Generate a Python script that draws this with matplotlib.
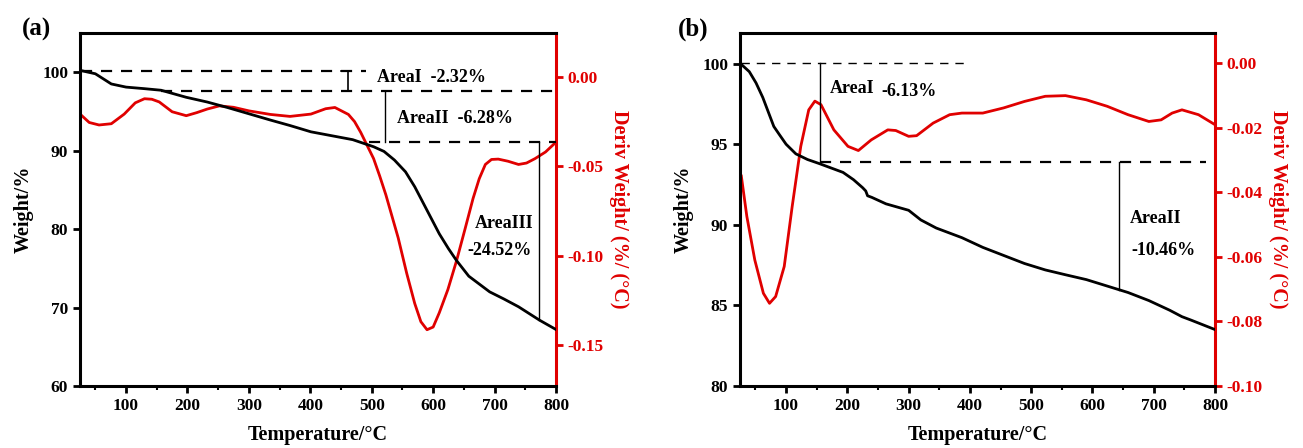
import matplotlib.pyplot as plt
from matplotlib.ticker import MultipleLocator, FuncFormatter

plt.rcParams['font.family'] = ['Liberation Serif', 'DejaVu Serif']
plt.rcParams['font.weight'] = 'bold'
plt.rcParams['axes.unicode_minus'] = False

# panel (a) data
temp_a_w = [27, 50, 76, 100, 130, 157, 198, 232, 265, 300, 335, 367, 401, 435, 469, 503,
            520, 537, 555, 570, 590, 610, 625, 638, 658, 675, 692, 715, 739, 773, 800]
weight_a = [100.2, 99.8, 98.5, 98.1, 97.9, 97.7, 96.8, 96.2, 95.5, 94.7, 93.9, 93.2, 92.4,
            91.9, 91.4, 90.5, 89.9, 88.8, 87.3, 85.4, 82.4, 79.4, 77.5, 76.0, 74.0, 73.0,
            72.0, 71.1, 70.1, 68.4, 67.2]
temp_a_d = [27, 40, 56, 76, 97, 115, 130, 142, 154, 175, 198, 215, 232, 252, 275, 300,
            335, 367, 401, 425, 440, 462, 472, 482, 492, 503, 513, 523, 533, 543, 557,
            570, 580, 590, 600, 610, 624, 638, 652, 665, 675, 685, 695, 706, 722, 739,
            752, 766, 783, 800]
deriv_a = [-0.0214, -0.0255, -0.0269, -0.0262, -0.0208, -0.0145, -0.0122, -0.0125, -0.0140,
           -0.0195, -0.0217, -0.0200, -0.0180, -0.0162, -0.0170, -0.0190, -0.0210, -0.0221,
           -0.0208, -0.0178, -0.0171, -0.0210, -0.0250, -0.0310, -0.0380, -0.0457, -0.0555,
           -0.0660, -0.0780, -0.0900, -0.1100, -0.1268, -0.1370, -0.1415, -0.1400, -0.1320,
           -0.1190, -0.1030, -0.0850, -0.0680, -0.0570, -0.0490, -0.0462, -0.0460, -0.0472,
           -0.0490, -0.0482, -0.0457, -0.0420, -0.0365]

# panel (b) data
temp_b_w = [27, 40, 51, 62, 72, 80, 89, 100, 116, 135, 154, 193, 210, 225, 230, 233, 240,
            263, 300, 320, 345, 387, 421, 455, 489, 523, 556, 590, 624, 658, 692, 726,
            746, 760, 800]
weight_b = [99.95, 99.5, 98.8, 97.9, 96.9, 96.1, 95.6, 95.0, 94.4, 94.05, 93.8, 93.25,
            92.8, 92.3, 92.1, 91.8, 91.7, 91.3, 90.9, 90.3, 89.8, 89.2, 88.6, 88.1, 87.6,
            87.2, 86.9, 86.6, 86.2, 85.8, 85.3, 84.7, 84.3, 84.1, 83.5]
temp_b_d = [27, 36, 49, 63, 73, 83, 97, 110, 124, 137, 147, 157, 178, 201, 218, 239, 266,
            279, 300, 313, 340, 367, 387, 421, 455, 489, 523, 556, 590, 624, 658, 692,
            712, 730, 746, 773, 800]
deriv_b = [-0.0350, -0.0475, -0.0610, -0.0713, -0.0744, -0.0723, -0.0630, -0.0444, -0.0258,
           -0.0145, -0.0118, -0.0129, -0.0207, -0.0258, -0.0271, -0.0238, -0.0207, -0.0209,
           -0.0227, -0.0225, -0.0186, -0.0160, -0.0155, -0.0155, -0.0139, -0.0119, -0.0103,
           -0.0101, -0.0114, -0.0134, -0.0160, -0.0181, -0.0176, -0.0155, -0.0145, -0.0160,
           -0.0191]

red = '#e00000'
fig = plt.figure(figsize=(13.03, 4.48), dpi=100)


def setup(ax, ax2, ylim, yticks, y2lim, y2step):
    ax.set_xlim(25, 800)
    ax.set_ylim(*ylim)
    ax.yaxis.set_major_locator(MultipleLocator(yticks))
    ax.xaxis.set_major_locator(MultipleLocator(100))
    ax.xaxis.set_minor_locator(MultipleLocator(50))
    ax.tick_params(which='major', direction='out', length=5, width=2, labelsize=12.5)
    ax.tick_params(which='minor', direction='out', length=3, width=1.5)
    ax.tick_params(axis='x', which='both', top=False)
    for s in ['left', 'bottom', 'top']:
        ax.spines[s].set_linewidth(2.2)
    ax.spines['right'].set_visible(False)
    ax.set_xlabel('Temperature/°C', fontsize=14.5, fontweight='bold', labelpad=8)
    ax.set_ylabel('Weight/%', fontsize=14.5, fontweight='bold', labelpad=6)
    ax2.set_ylim(*y2lim)
    ax2.yaxis.set_major_locator(MultipleLocator(y2step))
    ax2.yaxis.set_major_formatter(FuncFormatter(lambda v, p: f'{round(v, 4) + 0:.2f}'))
    ax2.spines['right'].set_color(red)
    ax2.spines['right'].set_linewidth(2.2)
    for s in ['left', 'bottom', 'top']:
        ax2.spines[s].set_visible(False)
    ax2.tick_params(axis='y', colors=red, direction='out', length=5, width=2, labelsize=12.5)
    ax2.set_ylabel('Deriv Weight/ (%/ (°C)', color=red, fontsize=14.5, fontweight='bold',
                   rotation=270, labelpad=18)
    for lab in ax.get_xticklabels() + ax.get_yticklabels() + ax2.get_yticklabels():
        lab.set_fontweight('bold')


# ---- (a)
ax = fig.add_axes([0.0614, 0.1384, 0.3653, 0.788])
ax2 = ax.twinx()
setup(ax, ax2, (60, 105), 10, (-0.173, 0.0246), 0.05)
ax2.plot(temp_a_d, deriv_a, color=red, lw=2)
ax.plot(temp_a_w, weight_a, color='black', lw=2, zorder=5)
ax.set_zorder(ax2.get_zorder() + 1)
ax.patch.set_visible(False)
dash = dict(color='black', lw=1.6, ls=(0, (5, 4)))
ax.plot([27, 490], [100.2, 100.2], **dash)
ax.plot([157, 800], [97.6, 97.6], **dash)
ax.plot([496, 800], [91.1, 91.1], **dash)
ax.plot([450, 462, 462], [100.2, 100.2, 97.6], color='black', lw=1.2)
ax.plot([522, 522], [97.6, 91.1], color='black', lw=1.0)
ax.plot([773, 773], [91.1, 68.4], color='black', lw=1.0)
ax.text(509, 99.3, 'AreaI  -2.32%', fontsize=13, fontweight='bold', va='center')
ax.text(541, 94.1, 'AreaII  -6.28%', fontsize=13, fontweight='bold', va='center')
ax.text(668, 80.7, 'AreaIII', fontsize=13, fontweight='bold', va='center')
ax.text(655, 77.3, '-24.52%', fontsize=13, fontweight='bold', va='center')
fig.text(0.017, 0.935, '(a)', fontsize=18, fontweight='bold', va='center')

# ---- (b)
bx = fig.add_axes([0.568, 0.1384, 0.3645, 0.788])
bx2 = bx.twinx()
setup(bx, bx2, (80, 101.9), 5, (-0.1, 0.0093), 0.02)
bx2.plot(temp_b_d, deriv_b, color=red, lw=2)
bx.plot(temp_b_w, weight_b, color='black', lw=2, zorder=5)
bx.set_zorder(bx2.get_zorder() + 1)
bx.patch.set_visible(False)
bx.plot([27, 397], [100.05, 100.05], color='black', lw=1.0, ls=(0, (6, 5)))
bx.plot([155, 786], [93.9, 93.9], **dash)
bx.plot([155, 155], [100.05, 93.9], color='black', lw=1.0)
bx.plot([644, 644], [93.9, 85.95], color='black', lw=1.0)
bx.text(171, 98.45, 'AreaI', fontsize=13, fontweight='bold', va='center')
bx.text(255, 98.3, '-6.13%', fontsize=13, fontweight='bold', va='center')
bx.text(661, 90.4, 'AreaII', fontsize=13, fontweight='bold', va='center')
bx.text(663, 88.4, '-10.46%', fontsize=13, fontweight='bold', va='center')
fig.text(0.52, 0.935, '(b)', fontsize=18, fontweight='bold', va='center')

fig.savefig('out.png', dpi=100)
